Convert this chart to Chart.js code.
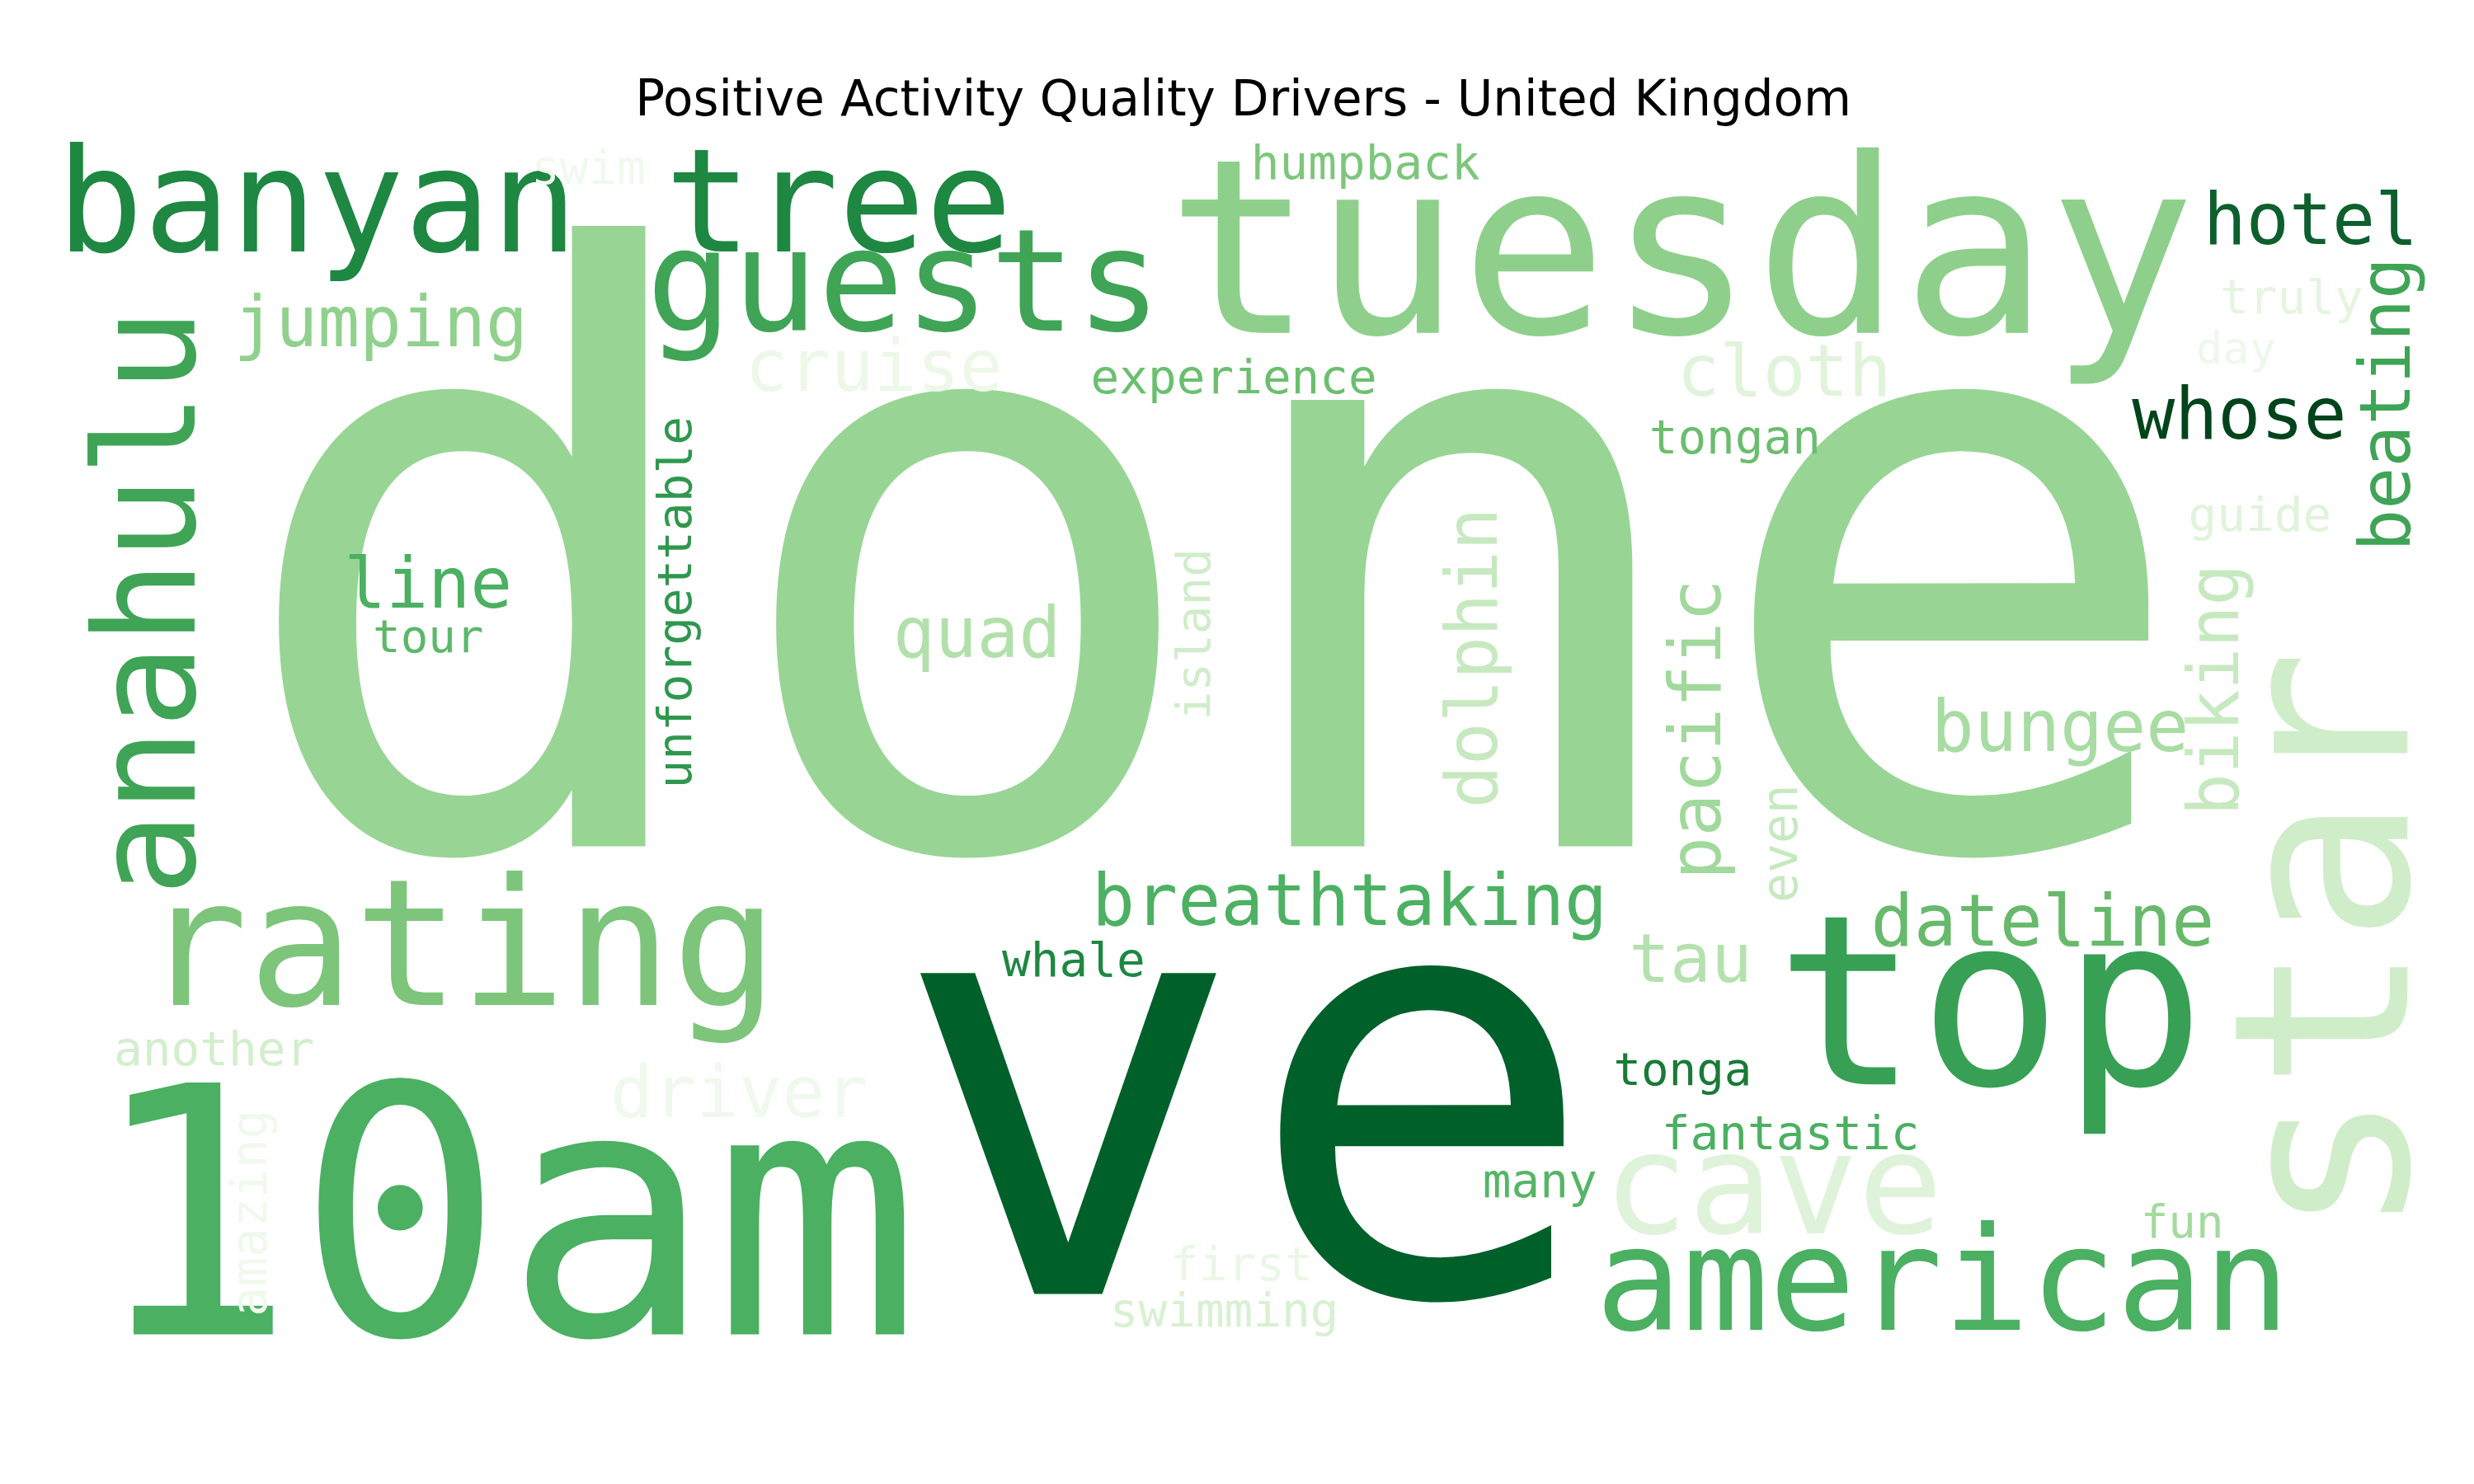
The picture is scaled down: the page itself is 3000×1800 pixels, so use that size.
<!DOCTYPE html>
<html>
<head>
<meta charset="utf-8">
<script src="https://cdn.jsdelivr.net/npm/chart.js@4/dist/chart.umd.min.js"></script>
<style>
  html, body { margin: 0; padding: 0; background: #fff; }
  #wrap { width: 3000px; height: 1800px; }
</style>
</head>
<body>
<div id="wrap"><canvas id="cloud"></canvas></div>
<script>
const chartTitle = 'Positive Activity Quality Drivers - United Kingdom'

const words = ['done', 've', '10am', 'tuesday', 'star', 'banyan tree', 'guests', 'anahulu', 'rating', 'top',
  'american', 'cave', 'hotel', 'whose', 'beating', 'truly', 'day', 'guide', 'biking', 'bungee',
  'dateline', 'tau', 'pacific', 'even', 'tongan', 'cloth', 'experience', 'humpback', 'swim', 'jumping',
  'cruise', 'dolphin', 'quad', 'line', 'tour', 'unforgettable', 'island', 'breathtaking', 'whale', 'tonga',
  'fantastic', 'many', 'fun', 'first', 'swimming', 'another', 'driver', 'amazing']
const posX = [765, 785, 318, 1060, 1478, 337, 570, 100, 290, 1255,
  1225, 1118, 1457, 1412, 1508, 1445, 1410, 1425, 1400, 1299,
  1288, 1066, 1073, 1125, 1094, 1125, 778, 861, 371, 240,
  551, 932, 616, 270, 270, 428, 755, 851, 677, 1061,
  1129, 971, 1376, 783, 772, 135, 466, 160]
const posY = [400, 720, 785, 170, 595, 135, 185, 380, 605, 645,
  815, 755, 142, 265, 255, 190, 222, 327, 435, 462,
  585, 608, 460, 532, 278, 238, 240, 105, 108, 207,
  235, 415, 403, 372, 404, 380, 400, 572, 608, 677,
  717, 747, 773, 800, 829, 664, 693, 765]
const sizes = [515, 370, 218, 154, 154, 91, 90, 88, 111, 150,
  91, 89, 45, 45, 44, 30, 28, 30, 44, 45,
  45, 43, 45, 31, 30, 45, 30, 30, 30, 44,
  45, 45, 44, 44, 29, 30, 30, 45, 30, 29,
  30, 30, 29, 30, 30, 30, 45, 31]
const vertical = [0, 0, 0, 0, 1, 0, 0, 1, 0, 0,
  0, 0, 0, 0, 1, 0, 0, 0, 1, 0,
  0, 0, 1, 1, 0, 0, 0, 0, 0, 0,
  0, 1, 0, 0, 0, 1, 1, 0, 0, 0,
  0, 0, 0, 0, 0, 0, 0, 1]
const colors = ['#98d594', '#00602a', '#4bb062', '#8ed08b', '#d0edca', '#1e8741', '#3fa456', '#3fa456', '#7cc57b', '#37a055',
  '#4bb062', '#dff3da', '#0e5f2e', '#00441b', '#3fa456', '#e5f5e0', '#edf8ea', '#e0f3db', '#c7e9c0', '#a8dca2',
  '#67b96b', '#b5e1ae', '#a0d99b', '#c7e9c0', '#6bbd6e', '#e0f3db', '#6bbf6e', '#7dc67c', '#f0f9ed', '#90d18d',
  '#edf8e9', '#c7e9c0', '#b2e0ab', '#4bb062', '#5bb86a', '#2f974e', '#d0edca', '#4db163', '#1e8741', '#1a7a37',
  '#4bb062', '#55b567', '#a3da9d', '#eaf7e6', '#d9f0d3', '#d3eecd', '#f0f9ed', '#eff9ec']

const wordPlugin = {
  id: 'wordPlugin',
  afterDatasetsDraw(chart) {
    const ctx = chart.ctx
    const xs = chart.scales.x
    const ys = chart.scales.y
    const k = chart.chartArea.width / 1560
    ctx.save()
    ctx.textAlign = 'center'
    ctx.textBaseline = 'middle'
    words.forEach((w, i) => {
      const px = xs.getPixelForValue(posX[i])
      const py = ys.getPixelForValue(posY[i])
      ctx.save()
      ctx.translate(px, py)
      if (vertical[i]) ctx.rotate(-Math.PI / 2)
      ctx.fillStyle = colors[i]
      ctx.font = (sizes[i] * k) + 'px "DejaVu Sans Mono"'
      ctx.fillText(w, 0, 0)
      ctx.restore()
    })
    ctx.fillStyle = '#000'
    ctx.font = (31 * k) + 'px "DejaVu Sans"'
    ctx.fillText(chartTitle, xs.getPixelForValue(784), ys.getPixelForValue(65))
    ctx.restore()
  }
}

new Chart(document.getElementById('cloud'), {
  type: 'scatter',
  data: {
    datasets: [{
      data: words.map((w, i) => ({ x: posX[i], y: posY[i] })),
      pointRadius: 0
    }]
  },
  options: {
    responsive: true,
    maintainAspectRatio: false,
    animation: false,
    layout: { padding: 0 },
    plugins: { legend: { display: false }, tooltip: { enabled: false } },
    scales: {
      x: { display: false, min: 0, max: 1560 },
      y: { display: false, min: 0, max: 936, reverse: true }
    }
  },
  plugins: [wordPlugin]
})
</script>
</body>
</html>
